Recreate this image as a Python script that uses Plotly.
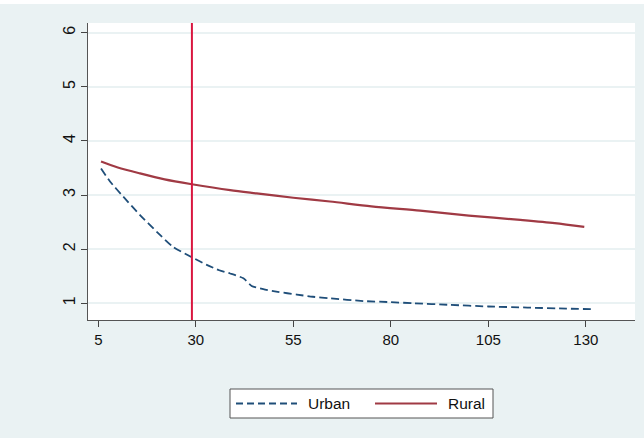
import plotly.graph_objects as go

# Urban series
urban_x = [5.7, 8, 11.4, 15.7, 20, 24.2, 29, 32.8, 36, 38.8, 42.2, 44.3, 47.3,
           51, 55.9, 60, 64.4, 73, 80, 85.8, 95, 105, 115, 125, 132]
urban_y = [3.49, 3.25, 2.97, 2.63, 2.32, 2.04, 1.85, 1.71, 1.61, 1.55, 1.46, 1.32, 1.26,
           1.21, 1.16, 1.12, 1.09, 1.04, 1.02, 1.0, 0.97, 0.94, 0.92, 0.90, 0.89]

# Rural series
rural_x = [5.7, 10, 15.7, 22, 29, 38.8, 45.6, 55, 64.4, 75, 87.5, 100, 113.2, 122, 129.6]
rural_y = [3.62, 3.51, 3.40, 3.29, 3.20, 3.09, 3.03, 2.95, 2.88, 2.79, 2.71, 2.62, 2.54, 2.48, 2.41]

# Reference line position
cutoff_x = 29

x_ticks = [5, 30, 55, 80, 105, 130]
y_ticks = [1, 2, 3, 4, 5, 6]

URBAN_COLOR = "#1f4e79"
RURAL_COLOR = "#a03a44"
CUT_COLOR = "#d9163f"
PANEL = "#eaf2f3"
FONT = "Liberation Sans, Arial, sans-serif"

fig = go.Figure()
fig.add_trace(go.Scatter(x=urban_x, y=urban_y, mode="lines", name="Urban",
                         line=dict(color=URBAN_COLOR, width=1.8, dash="8px,4px",
                                   shape="spline", smoothing=0.6),
                         showlegend=False))
fig.add_trace(go.Scatter(x=rural_x, y=rural_y, mode="lines", name="Rural",
                         line=dict(color=RURAL_COLOR, width=2.2,
                                   shape="spline", smoothing=0.8),
                         showlegend=False))

fig.add_vline(x=cutoff_x, line=dict(color=CUT_COLOR, width=2))

W, H = 644, 438
L, R, T, B = 88, 9, 23, 118
pw, ph = W - L - R, H - T - B


def px_x(p):
    return (p - L) / pw


def px_y(p):
    return (H - B - p) / ph


shapes = [
    # white margin strips around the panel
    dict(type="rect", xref="paper", yref="paper", x0=px_x(0), x1=px_x(8),
         y0=px_y(H), y1=px_y(0), fillcolor="white", line_width=0, layer="below"),
    dict(type="rect", xref="paper", yref="paper", x0=px_x(0), x1=px_x(W),
         y0=px_y(4), y1=px_y(0), fillcolor="white", line_width=0, layer="below"),
    # legend box
    dict(type="rect", xref="paper", yref="paper", x0=px_x(230), x1=px_x(493),
         y0=px_y(418), y1=px_y(389), fillcolor="white",
         line=dict(color="#555555", width=1)),
    dict(type="line", xref="paper", yref="paper", x0=px_x(236), x1=px_x(297),
         y0=px_y(403.5), y1=px_y(403.5),
         line=dict(color=URBAN_COLOR, width=2, dash="7px,4px")),
    dict(type="line", xref="paper", yref="paper", x0=px_x(375), x1=px_x(437),
         y0=px_y(403.5), y1=px_y(403.5),
         line=dict(color=RURAL_COLOR, width=2.2)),
]

annotations = [
    dict(text="Urban", xref="paper", yref="paper", x=px_x(306), y=px_y(403.5),
         xanchor="left", yanchor="middle", showarrow=False,
         font=dict(family=FONT, size=15.5, color="#111111")),
    dict(text="Rural", xref="paper", yref="paper", x=px_x(446), y=px_y(403.5),
         xanchor="left", yanchor="middle", showarrow=False,
         font=dict(family=FONT, size=15.5, color="#111111")),
]

fig.update_layout(
    width=W, height=H,
    margin=dict(l=L, r=R, t=T, b=B),
    paper_bgcolor=PANEL,
    plot_bgcolor="white",
    font=dict(family=FONT, size=15, color="#111111"),
    shapes=shapes,
    annotations=annotations,
    xaxis=dict(range=[2.36, 142.6], tickvals=x_ticks, ticks="outside", ticklen=6,
               tickcolor="#444444", showgrid=False, zeroline=False,
               showline=True, linecolor="#555555", linewidth=1.2,
               tickfont=dict(size=15)),
    yaxis=dict(range=[0.69, 6.18], tickvals=y_ticks, ticks="outside", ticklen=6,
               tickcolor="#444444", tickangle=-90, showgrid=True,
               gridcolor=PANEL, gridwidth=1.6, zeroline=False,
               showline=True, linecolor="#555555", linewidth=1.2,
               tickfont=dict(size=16)),
)

fig.write_html("out.html")
